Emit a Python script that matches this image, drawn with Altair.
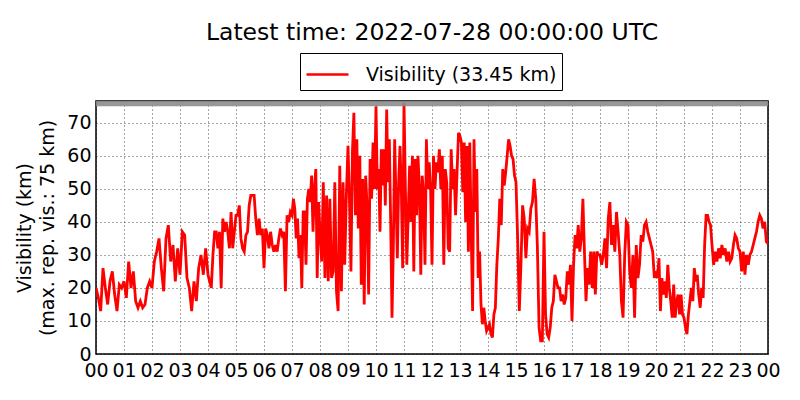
import altair as alt
import pandas as pd

# ---- data (visibility in km), one list per hour ----
h00 = [20, 17, 13, 26, 20, 15, 22, 25, 18, 13, 21, 20]
h01 = [22, 17, 28, 20, 25, 16, 14, 16, 14, 15, 20, 22]
h02 = [20, 28, 31, 35, 26, 19, 35, 39, 28, 33, 22, 32]
h03 = [24, 37, 36, 23, 20, 13, 22, 16, 26, 30, 24, 32]
h04 = [24, 22, 20, 30, 37, 37, 32, 37, 20, 41, 37, 40, 37, 32, 43, 32, 37]
h05 = [42, 42, 45, 35, 32, 31, 36, 37, 45, 48, 48, 48, 41, 36, 41, 36, 38]
h06 = [26, 38, 36, 32, 37, 33, 31, 33, 31, 35, 38, 36, 37, 19, 42, 40, 43]
h07 = [42, 47, 44, 35, 41, 29, 36, 20, 43, 43, 27, 47, 50, 46, 54, 37, 50, 56, 23, 46]
h08 = [37, 28, 52, 23, 48, 22, 47, 23, 25, 52, 19, 13, 57, 19, 52, 27, 48]
h09 = [63, 47, 25, 61, 73, 42, 65, 38, 60, 21, 53, 15, 54, 44, 18, 59, 47, 64, 50]
h10 = [75, 50, 56, 37, 62, 51, 62, 45, 74, 52, 65, 40, 11, 32, 65, 47, 29, 52, 63, 50, 26]
h11 = [76, 50, 27, 42, 57, 40, 60, 25, 59, 42, 60, 50, 24, 54, 48, 27, 65, 50, 58, 50]
h12 = [27, 60, 50, 58, 55, 62, 50, 60, 27, 56, 52, 32, 31, 62, 50, 56, 42, 55, 67]
h13 = [66, 64, 49, 64, 40, 63, 31, 64, 37, 13, 65, 43, 56, 23, 31, 15, 9, 14, 10, 7]
h14 = [8, 9, 6, 5, 12, 14, 27, 35, 47, 39, 56, 51, 55, 60, 65, 63, 60, 59, 54]
h15 = [52, 35, 13, 27, 45, 41, 29, 38, 37, 44, 46, 53, 47, 32, 8, 4, 4]
h16 = [37, 12, 6, 5, 8, 14, 16, 24, 22, 20, 20, 16, 18, 15, 17, 25, 21, 27]
h17 = [10, 27, 36, 32, 39, 31, 35, 47, 31, 16, 26, 21, 31, 20, 31, 18, 31, 30]
h18 = [30, 27, 30, 35, 26, 41, 46, 33, 39, 31, 43, 37, 30, 16, 11, 30, 40]
h19 = [39, 25, 20, 30, 11, 33, 23, 27, 36, 34, 39, 40, 37, 35, 33, 31, 23]
h20 = [25, 23, 29, 13, 23, 18, 22, 17, 27, 20, 16, 11, 21, 11, 16, 18, 12, 18, 12]
h21 = [11, 8, 6, 12, 16, 20, 16, 26, 22, 24, 18, 14, 20, 17, 33, 42, 42, 40, 39]
h22 = [33, 27, 31, 28, 32, 29, 33, 30, 32, 28, 31, 28, 29, 33, 36, 35, 32]
h23 = [31, 25, 31, 24, 30, 27, 30, 31, 33, 35, 37, 40, 42, 41, 38, 40, 34]
latest_value = 33.45

hours = [h00, h01, h02, h03, h04, h05, h06, h07, h08, h09, h10, h11,
         h12, h13, h14, h15, h16, h17, h18, h19, h20, h21, h22, h23]

tick_labels = ["00", "01", "02", "03", "04", "05", "06", "07", "08", "09",
               "10", "11", "12", "13", "14", "15", "16", "17", "18", "19",
               "20", "21", "22", "23", "00"]
y_ticks = [0, 10, 20, 30, 40, 50, 60, 70]
max_rep_vis = 75
y_top = 76.6
series_name = "Visibility (33.45 km)"
title_text = "Latest time: 2022-07-28 00:00:00 UTC"

rows = []
for h, vals in enumerate(hours):
    for i, v in enumerate(vals):
        rows.append({"hour": h + i / len(vals), "vis": v, "series": series_name})
rows.append({"hour": 24, "vis": latest_value, "series": series_name})
df = pd.DataFrame(rows)

band_df = pd.DataFrame({"y": [max_rep_vis], "y2": [y_top], "x": [0], "x2": [24]})

FONT = "DejaVu Sans"
FS = 19

label_expr = "[" + ",".join("'%s'" % t for t in tick_labels) + "][datum.value]"

x_scale = alt.Scale(domain=[0, 24], nice=False)
y_scale = alt.Scale(domain=[0, y_top], nice=False)

x_axis = alt.Axis(values=list(range(25)), labelExpr=label_expr, title=None,
                  labelFontSize=FS, labelPadding=7, labelFlush=False,
                  labelOverlap=False)
y_axis = alt.Axis(values=y_ticks, labelFontSize=FS, labelPadding=5,
                  labelOverlap=False,
                  title=["Visibility (km)", "(max. rep. vis.: 75 km)"],
                  titleFontSize=FS, titleFontWeight="normal",
                  titlePadding=9, titleLineHeight=23)

band = alt.Chart(band_df).mark_rect(color="#8c8c8c", opacity=0.9).encode(
    x=alt.X("x:Q", scale=x_scale, axis=x_axis),
    x2="x2:Q",
    y=alt.Y("y:Q", scale=y_scale, axis=y_axis),
    y2="y2:Q",
)

line = alt.Chart(df).mark_line(strokeWidth=2.8, clip=True).encode(
    x=alt.X("hour:Q", scale=x_scale, axis=x_axis),
    y=alt.Y("vis:Q", scale=y_scale, axis=y_axis),
    color=alt.Color("series:N", scale=alt.Scale(range=["#ff0000"]),
                    legend=alt.Legend(title=None, orient="none", legendX=204, legendY=-48,
                                      symbolType="M-1.4,0H1.4", symbolSize=900,
                                      symbolOffset=6,
                                      symbolStrokeWidth=2.6, labelFontSize=FS,
                                      labelLimit=400,
                                      labelOffset=22, padding=5, strokeColor="black",
                                      fillColor="white", labelFont=FONT)),
)

chart = alt.layer(line, band).properties(
    width=672,
    height=253,
    title=alt.TitleParams(text=title_text, fontSize=23.5, font=FONT, fontWeight="normal",
                          anchor="middle", baseline="alphabetic", offset=0, dy=11,
                          color="black"),
    autosize=alt.AutoSizeParams(type="none"),
    padding={"left": 88, "top": 93, "right": 24, "bottom": 38},
).configure(font=FONT).configure_view(
    stroke="black", strokeWidth=1.5
).configure_axis(
    domain=False, ticks=False, grid=True, gridDash=[1, 3], gridColor="black",
    gridWidth=0.7, gridOpacity=1, labelColor="black", labelFont=FONT,
    titleFont=FONT, titleColor="black"
)

chart.save("out.html", embed_options={"renderer": "svg", "actions": False})
